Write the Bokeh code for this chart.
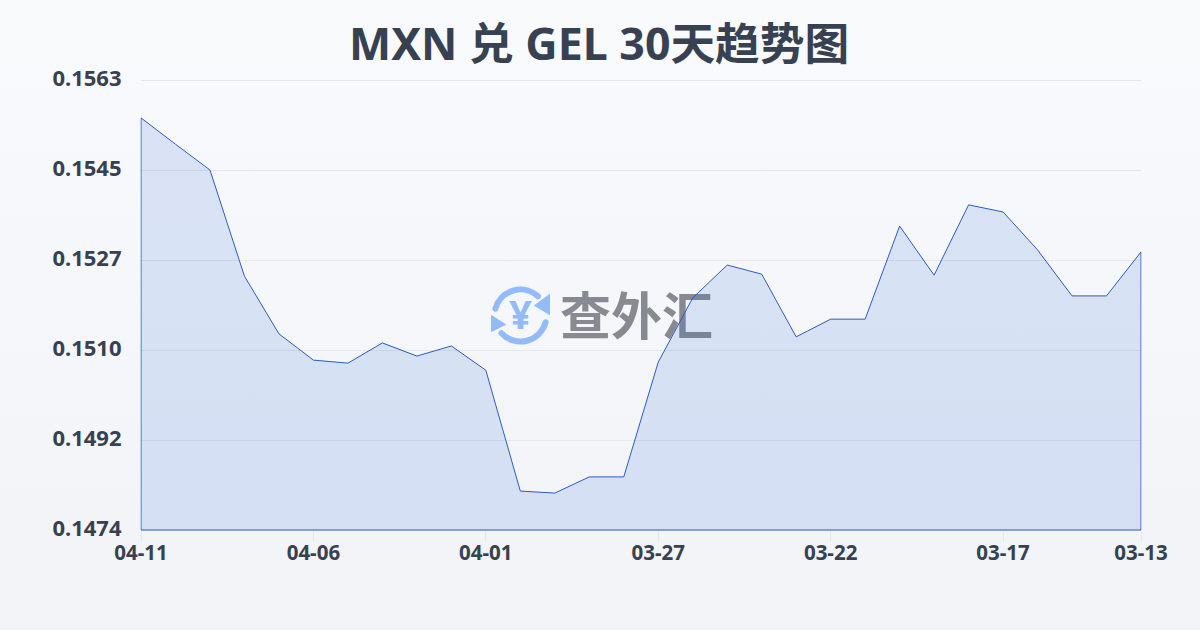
from bokeh.plotting import figure
from bokeh.embed import file_html
from bokeh.resources import INLINE
from bokeh.models import Range1d, FixedTicker, NumeralTickFormatter, GlobalInlineStyleSheet
from bokeh.core.properties import value
import numpy as np

TITLE = "MXN 兑 GEL 30天趋势图"
rates = [0.15555, 0.15503, 0.15452, 0.15242, 0.15128, 0.15076, 0.15070, 0.15110, 0.15084, 0.15104,
         0.15056, 0.14817, 0.14813, 0.14845, 0.14845, 0.15072, 0.15199, 0.15264, 0.15246, 0.15122,
         0.15157, 0.15157, 0.15341, 0.15244, 0.15383, 0.15369, 0.15294, 0.15203, 0.15203, 0.15290]
x_tick_idx = [0, 5, 10, 15, 20, 25, 29]
x_tick_labels = ["04-11", "04-06", "04-01", "03-27", "03-22", "03-17", "03-13"]
y_ticks = [0.1474, 0.14918, 0.15096, 0.15274, 0.15452, 0.1563]
WATERMARK = "查外汇"

FONT = "'Noto Sans', 'Noto Sans CJK SC', sans-serif"
INK = "#374151"
DY = 0.0089 / 450   # value per pixel
DX = 29 / 1000      # index per pixel

p = figure(width=1200, height=630, output_backend="svg", toolbar_location=None,
           x_range=Range1d(-0.5 * DX, 29 + 0.5 * DX),
           y_range=Range1d(y_ticks[0] - 1.5 * DY, y_ticks[-1] + 2.5 * DY),
           min_border_left=140, min_border_right=59, min_border_top=77, min_border_bottom=99,
           frame_width=1001, frame_height=454,
           title=TITLE, outline_line_color=None,
           background_fill_alpha=0, border_fill_alpha=0)
p.stylesheets = [GlobalInlineStyleSheet(css="html,body{margin:0;padding:0;overflow:hidden}")]
p.styles = {"background": "linear-gradient(180deg,#f8fafc 0%,#f1f3f6 100%)"}
p.title.align = "left"
p.title.offset = 208.5
p.title.text_font = FONT
p.title.text_font_size = "44.7px"
p.title.text_font_style = "bold"
p.title.text_color = INK
p.title.standoff = 9

# y axis: labels sit 2px above their gridlines, so the axis gets its own shifted range
p.extra_y_ranges["labels"] = Range1d(y_ticks[0] - 3.5 * DY, y_ticks[-1] + 0.5 * DY)
ya = p.yaxis[0]
ya.y_range_name = "labels"
ya.ticker = FixedTicker(ticks=y_ticks)
ya.formatter = NumeralTickFormatter(format="0.0000")
ya.axis_line_color = None
ya.major_tick_line_color = None
ya.minor_tick_line_color = None
ya.major_label_standoff = 13
ya.major_label_text_font = FONT
ya.major_label_text_font_size = "22px"
ya.major_label_text_font_style = "bold"
ya.major_label_text_color = INK

# x axis
xa = p.xaxis[0]
xa.ticker = FixedTicker(ticks=x_tick_idx)
xa.major_label_overrides = dict(zip(x_tick_idx, x_tick_labels))
xa.axis_line_color = None
xa.minor_tick_line_color = None
xa.major_tick_in = 0
xa.major_tick_out = 10
xa.major_tick_line_color = "#e5e7eb"
xa.major_label_standoff = 3
xa.major_label_text_font = FONT
xa.major_label_text_font_size = "20.5px"
xa.major_label_text_font_style = "bold"
xa.major_label_text_color = INK

p.xgrid.visible = False
p.ygrid.ticker = FixedTicker(ticks=y_ticks)
p.ygrid.grid_line_color = "#e5e7eb"
p.ygrid.grid_line_width = 1

# watermark, placed in page pixels with y pointing up
p.extra_x_ranges["px"] = Range1d(140, 1141)
p.extra_y_ranges["px"] = Range1d(99, 553)
LOGO = "#93bbfa"
cx, cy = 520, 315
p.arc([cx], [cy], radius=value(26, units="screen"), start_angle=np.radians(48), end_angle=np.radians(165),
      direction="anticlock", line_color=LOGO, line_width=6, line_cap="round",
      x_range_name="px", y_range_name="px")
p.arc([cx], [cy], radius=value(26, units="screen"), start_angle=np.radians(223), end_angle=np.radians(345),
      direction="anticlock", line_color=LOGO, line_width=6, line_cap="round",
      x_range_name="px", y_range_name="px")
p.patch([549, 549, 534], [316, 336, 325], fill_color=LOGO, line_color=LOGO,
        x_range_name="px", y_range_name="px")
p.patch([491, 491, 505], [299, 315, 306], fill_color=LOGO, line_color=LOGO,
        x_range_name="px", y_range_name="px")
p.text([cx], [cy + 2], text=["¥"], text_font=value(FONT), text_font_size=value("40px"), text_font_style="bold",
       text_color=LOGO, text_align="center", text_baseline="middle",
       x_range_name="px", y_range_name="px")
p.text([636], [318], text=[WATERMARK], text_font=value("Noto Sans CJK SC"), text_font_size=value("51px"),
       text_font_style="bold", text_color="#878a91", text_align="center", text_baseline="middle",
       x_range_name="px", y_range_name="px")

# series
xs = list(range(len(rates)))
p.patch(xs + [xs[-1], xs[0]], rates + [y_ticks[0], y_ticks[0]],
        fill_color="#2a62dc", fill_alpha=0.14, line_color="#2a5cc0", line_width=1)

open("out.html", "w").write(file_html(p, INLINE))
